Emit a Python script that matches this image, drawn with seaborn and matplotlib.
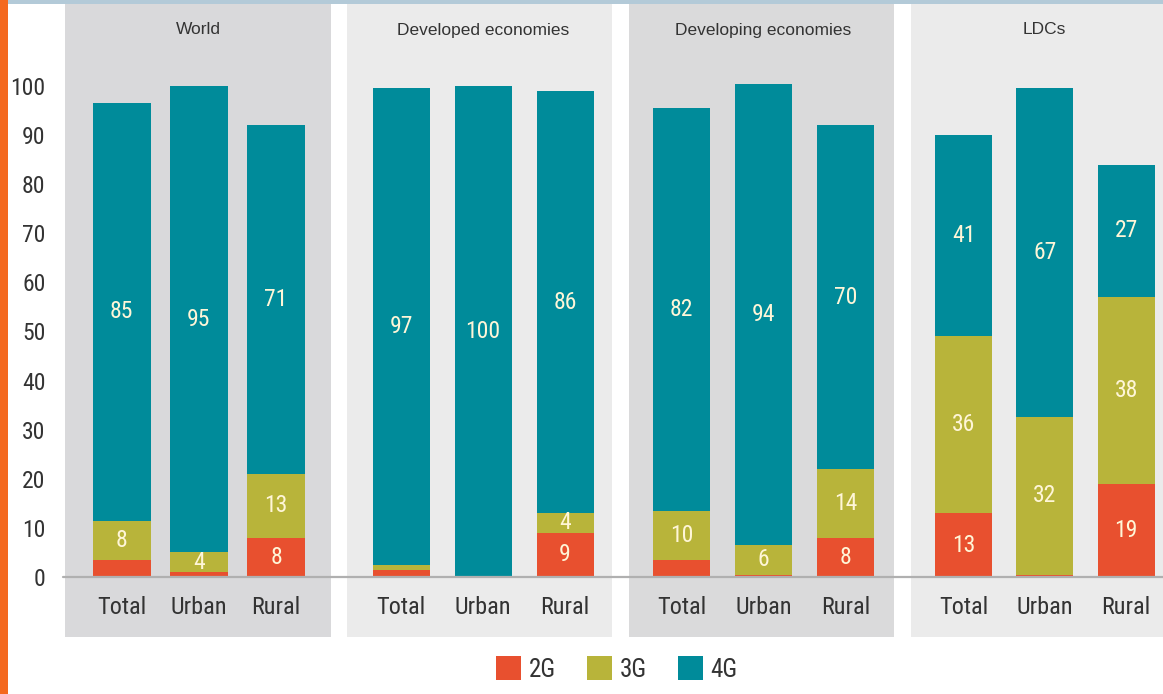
import os
import matplotlib
matplotlib.use("Agg")
import matplotlib.pyplot as plt
from matplotlib import font_manager as fm
from matplotlib.patches import Rectangle, Patch
from matplotlib.lines import Line2D
import seaborn as sns
import pandas as pd

# ---- data ----
categories = ["Total", "Urban", "Rural"]
regions = ["World", "Developed economies", "Developing economies", "LDCs"]
g2 = [[3.5, 1, 8], [1.5, 0, 9], [3.5, 0.5, 8], [13, 0.5, 19]]
g3 = [[8, 4, 13], [1, 0, 4], [10, 6, 14], [36, 32, 38]]
g4 = [[85, 95, 71], [97, 100, 86], [82, 94, 70], [41, 67, 27]]
series_names = ["2G", "3G", "4G"]
yticks = list(range(0, 101, 10))

# ---- style ----
sns.set_theme(style="white")
plt.rcParams["font.family"] = ["Liberation Sans", "DejaVu Sans"]


def find_narrow():
    prefs = ["liberationsansnarrow-regular", "robotocondensed-regular",
             "notosans-condensed.", "dejavusanscondensed.",
             "notosans-semicondensed.", "opensans-condensed"]
    files = [f.fname for f in fm.fontManager.ttflist]
    for p in prefs:
        for fn in files:
            if os.path.basename(fn).lower().startswith(p):
                return fn
    return None


narrow_file = find_narrow()
if narrow_file:
    def NP(size):
        return fm.FontProperties(fname=narrow_file, size=size)
else:
    def NP(size):
        return fm.FontProperties(family=["Liberation Sans", "DejaVu Sans"],
                                 size=size * 0.85)

colors = {"2G": "#e8502f", "3G": "#b8b43a", "4G": "#008b9a"}
panel_bg = ["#d9d9db", "#ebebeb", "#dadadb", "#ebebeb"]
label_color = "#fff6d8"
text_color = "#333333"

W, H = 1163, 694
fig = plt.figure(figsize=(W / 100, H / 100), dpi=100)
fig.patch.set_facecolor("white")


def fx(px):
    return px / W


def fy(py):
    return 1 - py / H


# decorative stripes
fig.add_artist(Rectangle((0, fy(4)), 1, 4 / H, transform=fig.transFigure,
                         color="#b3cad8", lw=0, zorder=0))
fig.add_artist(Rectangle((0, 0), fx(8), 1, transform=fig.transFigure,
                         color="#f4691f", lw=0, zorder=0))

# panel geometry in pixels: left, right, first bar center, spacing, bar width
panels = [(65, 331, 121.5, 77.3, 58),
          (347, 612, 401, 82, 57),
          (629, 894, 681.5, 82, 57),
          (911, 1163, 963.5, 81.3, 57)]
top_px, bot_px = 4, 637
zero_px, hund_px = 577, 86
scale = (zero_px - hund_px) / 100.0
ylo = -(bot_px - zero_px) / scale
yhi = (zero_px - top_px) / scale

axes = []
for i, (l, r, c0, sp, bw) in enumerate(panels):
    ax = fig.add_axes([fx(l), fy(bot_px), fx(r - l), (bot_px - top_px) / H])
    ax.set_facecolor(panel_bg[i])
    df = pd.DataFrame({"cat": categories,
                       "s2": g2[i], "s3": g3[i], "s4": g4[i]})
    df["c3"] = df["s2"] + df["s3"]
    df["c4"] = df["c3"] + df["s4"]
    w = bw / sp
    sns.barplot(data=df, x="cat", y="c4", color=colors["4G"], ax=ax,
                width=w, linewidth=0, saturation=1, zorder=2)
    sns.barplot(data=df, x="cat", y="c3", color=colors["3G"], ax=ax,
                width=w, linewidth=0, saturation=1, zorder=3)
    sns.barplot(data=df, x="cat", y="s2", color=colors["2G"], ax=ax,
                width=w, linewidth=0, saturation=1, zorder=4)
    # value labels
    for j, row in df.iterrows():
        segs = [(0, row["s2"]), (row["s2"], row["s3"]), (row["c3"], row["s4"])]
        for base, v in segs:
            if v >= 3.9:
                ax.text(j, base + v / 2, f"{v:g}", ha="center", va="center",
                        color=label_color, fontproperties=NP(17), zorder=5)
        ax.text(j, -(607 - zero_px) / scale, categories[j], ha="center",
                va="center", color=text_color, fontproperties=NP(17.5))
    ax.text(1, (zero_px - 30) / scale, regions[i], ha="center", va="center",
            color=text_color, fontsize=12.5)
    ax.set_xlim((l - c0) / sp, (r - c0) / sp)
    ax.set_ylim(ylo, yhi)
    ax.set_xticks([])
    ax.set_xlabel("")
    ax.set_ylabel("")
    for s in ax.spines.values():
        s.set_visible(False)
    if i == 0:
        ax.set_yticks(yticks)
        ax.set_yticklabels([str(t) for t in yticks], color=text_color)
        for t in ax.get_yticklabels():
            t.set_fontproperties(NP(17))
        ax.tick_params(axis="y", length=0, pad=14)
    else:
        ax.set_yticks([])
    axes.append(ax)

# zero baseline across panels
x0, y0 = axes[0].transData.transform((axes[0].get_xlim()[0], 0))
_, yf = fig.transFigure.inverted().transform((x0, y0))
fig.add_artist(Line2D([fx(63), 1], [yf, yf], transform=fig.transFigure,
                      color="#b0b0b0", lw=1.6, zorder=1))

# legend
handles = [Patch(facecolor=colors[s], edgecolor="none") for s in series_names]
leg = fig.legend(handles, series_names, loc="center",
                 bbox_to_anchor=(fx(617), fy(669)),
                 ncol=3, frameon=False, handlelength=1.0, handleheight=1.05,
                 handletextpad=0.3, columnspacing=1.25, prop=NP(18))
for t in leg.get_texts():
    t.set_color(text_color)

fig.savefig("out.png", dpi=100, facecolor="white")
